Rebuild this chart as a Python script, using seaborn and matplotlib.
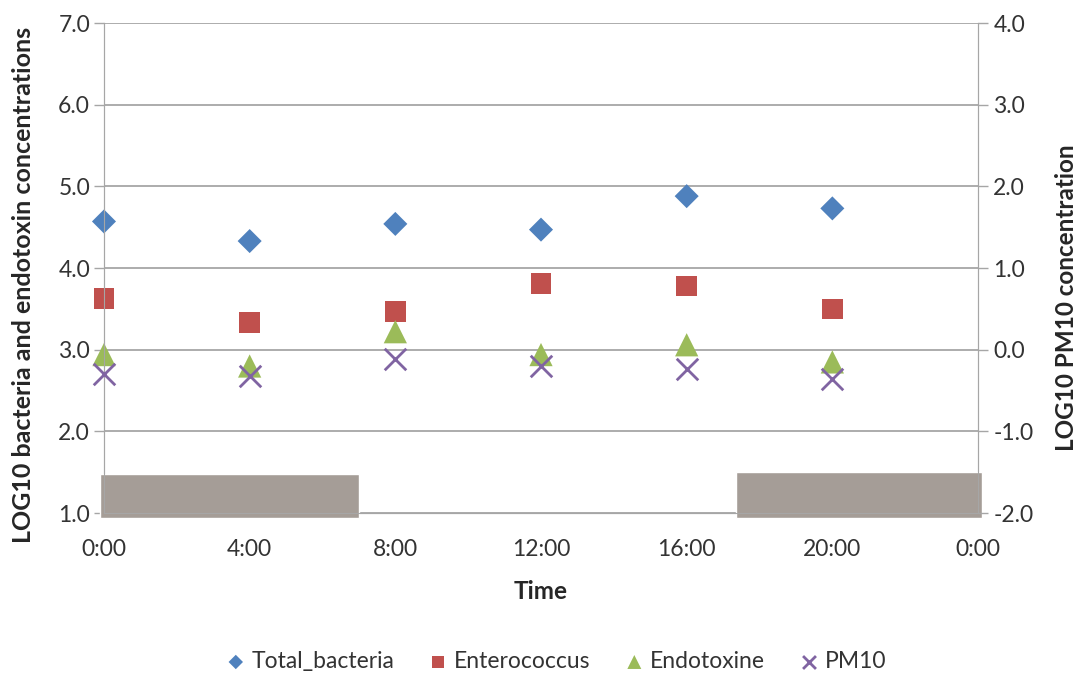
import pandas as pd
import numpy as np
import matplotlib
matplotlib.use("Agg")
import matplotlib.pyplot as plt
import seaborn as sns

# sampling hours (0:00 .. 20:00)
hours = [0, 4, 8, 12, 16, 20]
total_bacteria = [4.57, 4.33, 4.54, 4.47, 4.88, 4.73]
enterococcus = [3.63, 3.33, 3.47, 3.81, 3.78, 3.50]
endotoxine = [2.94, 2.80, 3.22, 2.94, 3.06, 2.85]
pm10 = [-0.30, -0.32, -0.11, -0.20, -0.24, -0.36]

# night periods (hours) drawn as grey blocks at the bottom
night_start = [-0.1, 17.35]
night_end = [7.0, 24.1]
night_top = [1.48, 1.505]

tick_hours = [0, 4, 8, 12, 16, 20, 24]
tick_labels = ["0:00", "4:00", "8:00", "12:00", "16:00", "20:00", "0:00"]

sns.set_style("white")
plt.rcParams["font.family"] = ["Lato", "DejaVu Sans"]

colors = {"Total_bacteria": "#4F81BD", "Enterococcus": "#C0504D",
          "Endotoxine": "#9BBB59", "PM10": "#8064A2"}

df = pd.DataFrame({
    "hour": hours * 4,
    "value": total_bacteria + enterococcus + endotoxine + pm10,
    "series": ["Total_bacteria"] * 6 + ["Enterococcus"] * 6
              + ["Endotoxine"] * 6 + ["PM10"] * 6,
})

fig = plt.figure(figsize=(10.82, 6.75), dpi=100)
ax = fig.add_axes([0.0961, 0.24, 0.8078, 0.7259])
ax2 = ax.twinx()

marker_of = {"Total_bacteria": "D", "Enterococcus": "s", "Endotoxine": "^"}
size_of = {"Total_bacteria": 150, "Enterococcus": 220, "Endotoxine": 280}
for name in ["Total_bacteria", "Enterococcus", "Endotoxine"]:
    sns.scatterplot(data=df[df.series == name], x="hour", y="value",
                    color=colors[name], marker=marker_of[name], s=size_of[name],
                    edgecolor="none", ax=ax, zorder=5, clip_on=False, label=name)
sns.scatterplot(data=df[df.series == "PM10"], x="hour", y="value",
                color=colors["PM10"], marker="x", s=240, linewidth=2,
                ax=ax2, zorder=5, clip_on=False, label="PM10")

grey = "#A6A6A6"
ax.set_xlim(0, 24)
ax.set_ylim(1.0, 7.0)
ax2.set_ylim(-2.0, 4.0)
ax.set_xticks(tick_hours)
ax.set_xticklabels(tick_labels)
ax.set_yticks(np.arange(1, 7.5, 1))
ax.set_yticklabels([f"{v:.1f}" for v in np.arange(1, 7.5, 1)])
ax2.set_yticks(np.arange(-2, 4.5, 1))
ax2.set_yticklabels([f"{v:.1f}" for v in np.arange(-2, 4.5, 1)])
ax.grid(axis="y", color=grey, linewidth=1.3)
ax.set_axisbelow(True)

for a in (ax, ax2):
    a.spines["top"].set_visible(False)
    for s in ("left", "right", "bottom"):
        a.spines[s].set_color(grey)
    a.tick_params(colors="#333333", labelsize=16.5, length=7, width=1, direction="out")
    a.tick_params(axis="both", color=grey)
ax.tick_params(axis="y", pad=3)
ax2.tick_params(axis="y", pad=4)
ax.tick_params(axis="x", pad=12)

for st, en, tp in zip(night_start, night_end, night_top):
    ax.bar(st, tp - 0.94, width=en - st, bottom=0.94, align="edge",
           color="#A59D97", zorder=6, clip_on=False)

ax.set_xlabel("Time", fontsize=17.5, fontweight="bold", labelpad=14)
ax.set_ylabel("LOG10 bacteria and endotoxin concentrations", fontsize=18,
              fontweight="bold")
ax2.set_ylabel("LOG10 PM10 concentration", fontsize=17.5, fontweight="bold")
ax.yaxis.set_label_coords(-0.079, 0.465)
ax2.yaxis.set_label_coords(1.088, 0.44)

h1, l1 = ax.get_legend_handles_labels()
h2, l2 = ax2.get_legend_handles_labels()
ax.get_legend().remove()
ax2.get_legend().remove()
fig.legend(h1 + h2, l1 + l2, loc="center", bbox_to_anchor=(0.508, 0.02), ncol=4,
           frameon=False, fontsize=16.5, markerscale=0.6, handletextpad=-0.3,
           columnspacing=0.9, labelcolor="#333333")

fig.savefig("out.png", dpi=100)
